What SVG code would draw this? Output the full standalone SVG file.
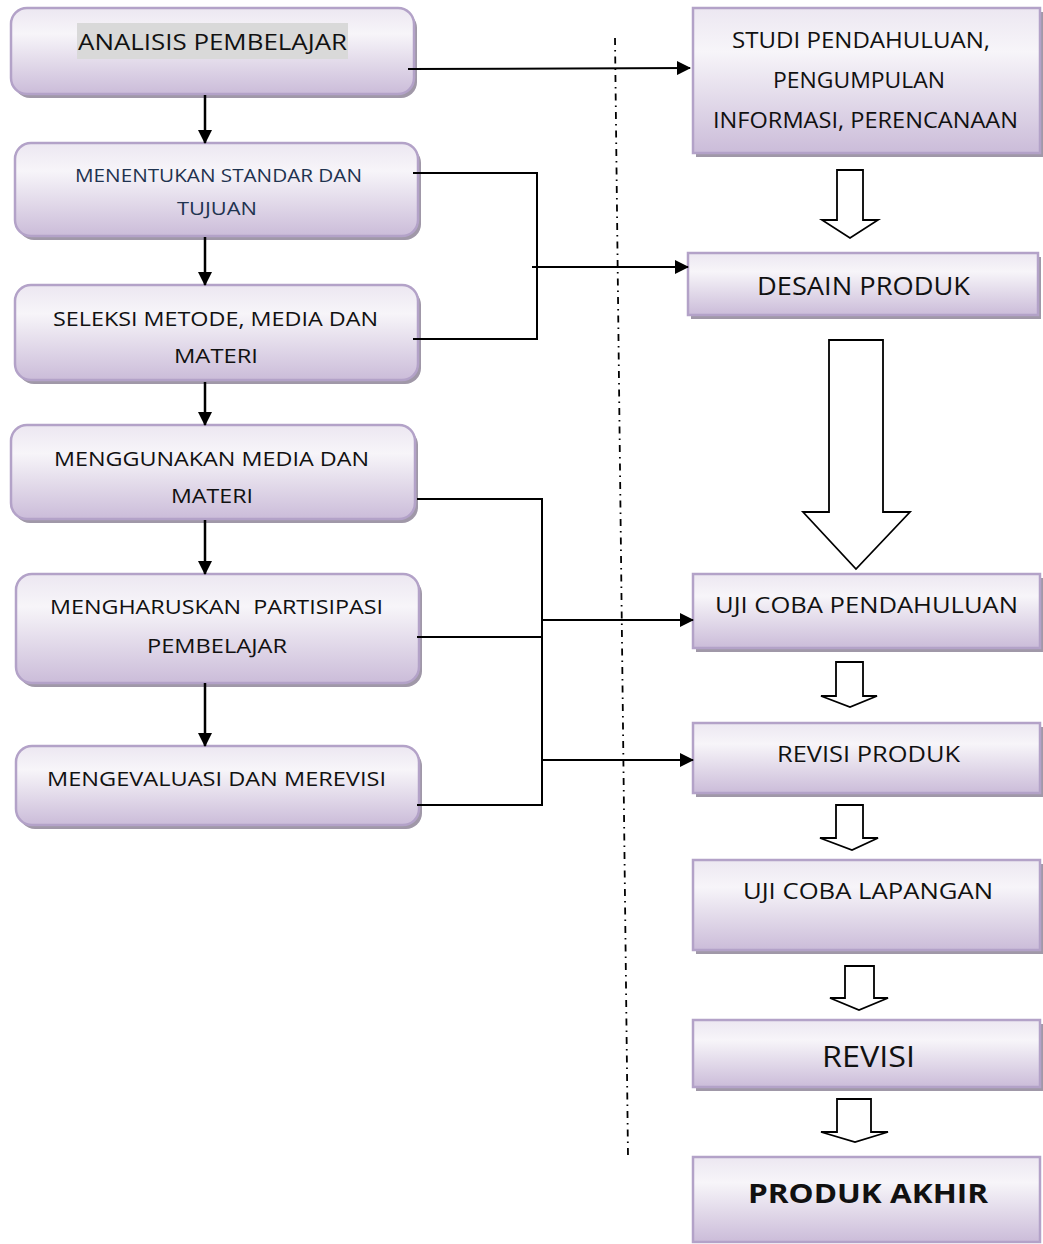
<svg xmlns="http://www.w3.org/2000/svg" width="1043" height="1244" viewBox="0 0 1043 1244">
  <defs>
    <linearGradient id="boxFill" x1="0" y1="0" x2="0" y2="1">
      <stop offset="0" stop-color="#ece7f1"/>
      <stop offset="0.3" stop-color="#f7f5f9"/>
      <stop offset="1" stop-color="#cbbcd9"/>
    </linearGradient>
    <marker id="arrowHead" markerUnits="userSpaceOnUse" markerWidth="14" markerHeight="14" viewBox="0 0 14 14" refX="13" refY="7" orient="auto">
      <path d="M0,0 L14,7 L0,14 Z" fill="#000"/>
    </marker>
  </defs>
  <style>
    .shadow { fill: #a098a8; }
    .box { fill: url(#boxFill); stroke: #b3a2c8; stroke-width: 2.5; }
    .lbl { font-family: "Open Sans", Lato, "Liberation Sans", sans-serif; fill: #111; }
    .navy { fill: #1f3350; }
    .bold { font-weight: bold; }
    .link { fill: none; stroke: #000; stroke-width: 2; }
    .down { fill: none; stroke: #000; stroke-width: 2.5; }
    .hollow { fill: #fff; stroke: #000; stroke-width: 1.8; stroke-linejoin: miter; }
    .divider { fill: none; stroke: #000; stroke-width: 1.8; stroke-dasharray: 7 5 1.5 5; }
  </style>

  <rect width="1043" height="1244" fill="#fff"/>

  <!-- dash-dot divider between the two columns -->
  <line class="divider" x1="615" y1="38" x2="628" y2="1157"/>

  <!-- left column: instructional design steps -->
  <g id="analisis-pembelajar">
    <rect class="shadow" x="14" y="12" width="403" height="86" rx="16"/>
    <rect class="box" x="11" y="8" width="403" height="86" rx="16"/>
    <rect x="77" y="23" width="271" height="36" fill="#d9d9d9"/>
    <text class="lbl" x="78" y="50" font-size="22" textLength="269" lengthAdjust="spacingAndGlyphs">ANALISIS PEMBELAJAR</text>
  </g>

  <g id="menentukan-standar">
    <rect class="shadow" x="18" y="147" width="403" height="93" rx="16"/>
    <rect class="box" x="15" y="143" width="403" height="93" rx="16"/>
    <text class="lbl navy" x="75" y="182" font-size="19" textLength="287" lengthAdjust="spacingAndGlyphs">MENENTUKAN STANDAR DAN</text>
    <text class="lbl navy" x="177" y="215" font-size="19" textLength="80" lengthAdjust="spacingAndGlyphs">TUJUAN</text>
  </g>

  <g id="seleksi-metode">
    <rect class="shadow" x="18" y="289" width="403" height="95" rx="16"/>
    <rect class="box" x="15" y="285" width="403" height="95" rx="16"/>
    <text class="lbl" x="53" y="326" font-size="20" textLength="325" lengthAdjust="spacingAndGlyphs">SELEKSI METODE, MEDIA DAN</text>
    <text class="lbl" x="174" y="363" font-size="20" textLength="84" lengthAdjust="spacingAndGlyphs">MATERI</text>
  </g>

  <g id="menggunakan-media">
    <rect class="shadow" x="14" y="429" width="404" height="94" rx="16"/>
    <rect class="box" x="11" y="425" width="404" height="94" rx="16"/>
    <text class="lbl" x="54" y="466" font-size="20" textLength="315" lengthAdjust="spacingAndGlyphs">MENGGUNAKAN MEDIA DAN</text>
    <text class="lbl" x="171" y="503" font-size="20" textLength="82" lengthAdjust="spacingAndGlyphs">MATERI</text>
  </g>

  <g id="mengharuskan-partisipasi">
    <rect class="shadow" x="19" y="578" width="403" height="109" rx="16"/>
    <rect class="box" x="16" y="574" width="403" height="109" rx="16"/>
    <text class="lbl" x="50" y="614" font-size="20" textLength="333" lengthAdjust="spacingAndGlyphs" xml:space="preserve">MENGHARUSKAN  PARTISIPASI</text>
    <text class="lbl" x="147" y="653" font-size="20" textLength="140" lengthAdjust="spacingAndGlyphs">PEMBELAJAR</text>
  </g>

  <g id="mengevaluasi">
    <rect class="shadow" x="19" y="750" width="403" height="79" rx="16"/>
    <rect class="box" x="16" y="746" width="403" height="79" rx="16"/>
    <text class="lbl" x="47" y="786" font-size="20" textLength="339" lengthAdjust="spacingAndGlyphs">MENGEVALUASI DAN MEREVISI</text>
  </g>

  <!-- right column: development stages -->
  <g id="studi-pendahuluan">
    <rect class="shadow" x="696" y="12" width="347" height="145"/>
    <rect class="box" x="693" y="8" width="347" height="145"/>
    <text class="lbl" x="732" y="48" font-size="21" textLength="258" lengthAdjust="spacingAndGlyphs">STUDI PENDAHULUAN,</text>
    <text class="lbl" x="773" y="88" font-size="21" textLength="172" lengthAdjust="spacingAndGlyphs">PENGUMPULAN</text>
    <text class="lbl" x="713" y="128" font-size="21" textLength="305" lengthAdjust="spacingAndGlyphs">INFORMASI, PERENCANAAN</text>
  </g>

  <g id="desain-produk">
    <rect class="shadow" x="691" y="257" width="350" height="62"/>
    <rect class="box" x="688" y="253" width="350" height="62"/>
    <text class="lbl" x="757" y="295" font-size="26" textLength="213" lengthAdjust="spacingAndGlyphs">DESAIN PRODUK</text>
  </g>

  <g id="uji-coba-pendahuluan">
    <rect class="shadow" x="696" y="578" width="347" height="74"/>
    <rect class="box" x="693" y="574" width="347" height="74"/>
    <text class="lbl" x="715" y="613" font-size="22" textLength="303" lengthAdjust="spacingAndGlyphs">UJI COBA PENDAHULUAN</text>
  </g>

  <g id="revisi-produk">
    <rect class="shadow" x="696" y="727" width="347" height="70"/>
    <rect class="box" x="693" y="723" width="347" height="70"/>
    <text class="lbl" x="777" y="762" font-size="22" textLength="183" lengthAdjust="spacingAndGlyphs">REVISI PRODUK</text>
  </g>

  <g id="uji-coba-lapangan">
    <rect class="shadow" x="696" y="864" width="347" height="90"/>
    <rect class="box" x="693" y="860" width="347" height="90"/>
    <text class="lbl" x="743" y="899" font-size="22" textLength="250" lengthAdjust="spacingAndGlyphs">UJI COBA LAPANGAN</text>
  </g>

  <g id="revisi">
    <rect class="shadow" x="696" y="1024" width="347" height="67"/>
    <rect class="box" x="693" y="1020" width="347" height="67"/>
    <text class="lbl" x="822" y="1067" font-size="29" textLength="93" lengthAdjust="spacingAndGlyphs">REVISI</text>
  </g>

  <g id="produk-akhir">
    <rect class="box" x="693" y="1157" width="347" height="85"/>
    <text class="lbl bold" x="748" y="1203" font-size="27" textLength="240" lengthAdjust="spacingAndGlyphs">PRODUK AKHIR</text>
  </g>

  <!-- connectors -->
  <g id="connectors">
    <!-- left column step arrows -->
    <line class="down" x1="205" y1="95" x2="205" y2="143" marker-end="url(#arrowHead)"/>
    <line class="down" x1="205" y1="237" x2="205" y2="285" marker-end="url(#arrowHead)"/>
    <line class="down" x1="205" y1="382" x2="205" y2="425" marker-end="url(#arrowHead)"/>
    <line class="down" x1="205" y1="520" x2="205" y2="574" marker-end="url(#arrowHead)"/>
    <line class="down" x1="205" y1="683" x2="205" y2="746" marker-end="url(#arrowHead)"/>

    <!-- analysis to preliminary study -->
    <line class="link" x1="408" y1="69" x2="690" y2="68" marker-end="url(#arrowHead)"/>

    <!-- standards and selection bracket to product design -->
    <polyline class="link" points="413,173 537,173 537,339 413,339"/>
    <line class="link" x1="532" y1="267" x2="688" y2="267" marker-end="url(#arrowHead)"/>

    <!-- media, participation and evaluation bracket to trials -->
    <polyline class="link" points="417,499 542,499 542,805 417,805"/>
    <line class="link" x1="417" y1="637" x2="542" y2="637"/>
    <line class="link" x1="542" y1="620" x2="693" y2="620" marker-end="url(#arrowHead)"/>
    <line class="link" x1="542" y1="760" x2="693" y2="760" marker-end="url(#arrowHead)"/>

    <!-- hollow block arrows down the right column -->
    <polygon class="hollow" points="837,170 863,170 863,220 878,220 850,238 822,220 837,220"/>
    <polygon class="hollow" points="829,340 883,340 883,512 910,512 856,569 803,512 829,512"/>
    <polygon class="hollow" points="836,662 863,662 863,696 877,696 850,707 821,696 836,696"/>
    <polygon class="hollow" points="836,805 863,805 863,838 878,838 852,850 820,838 836,838"/>
    <polygon class="hollow" points="845,966 874,966 874,998 888,998 859,1010 830,998 845,998"/>
    <polygon class="hollow" points="837,1099 871,1099 871,1132 888,1132 855,1142 821,1132 837,1132"/>
  </g>
</svg>
